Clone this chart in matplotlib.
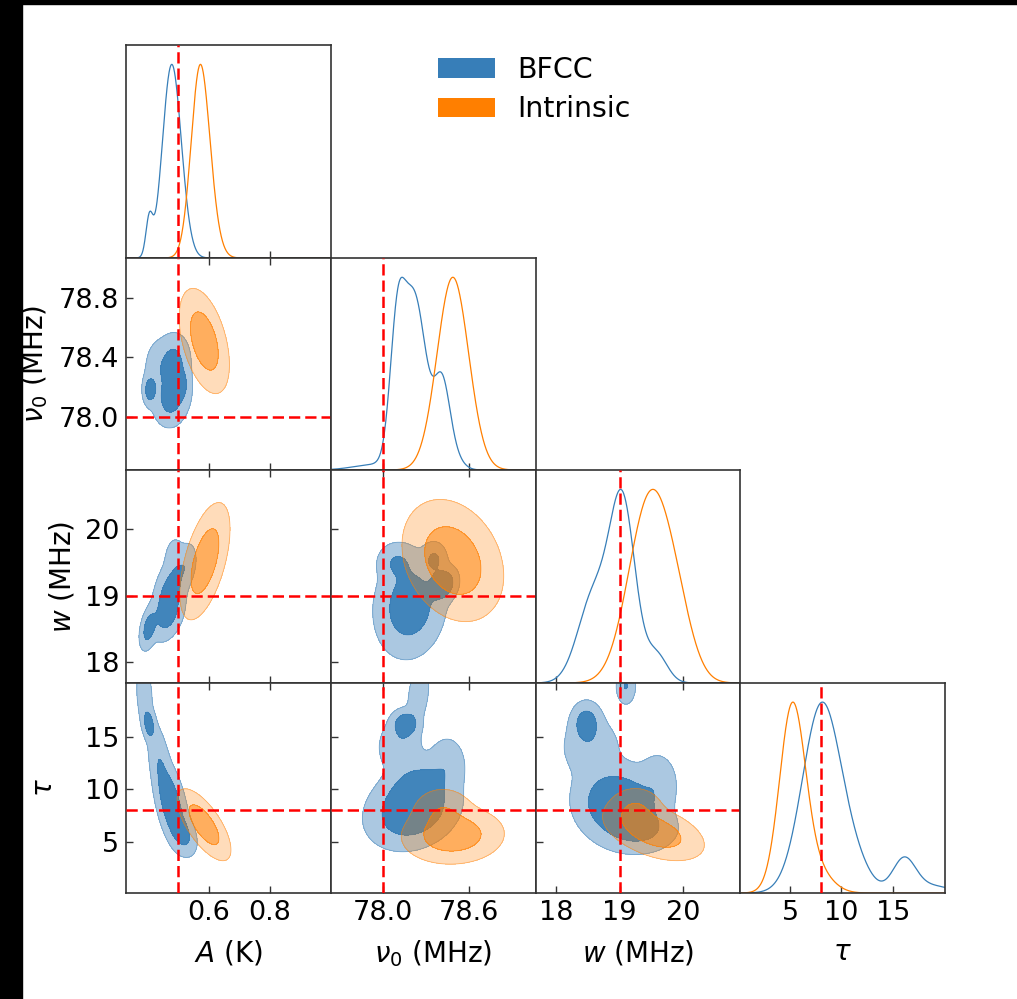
import numpy as np
import matplotlib
matplotlib.use("Agg")
import matplotlib.pyplot as plt
from matplotlib.patches import Patch, Rectangle

# ---------------- data ----------------
PARAM_LABELS = [r"$A$ (K)", r"$\nu_0$ (MHz)", r"$w$ (MHz)", r"$\tau$"]
TRUTH = [0.5, 78.0, 19.0, 8.0]
LIMITS = [(0.33, 1.0), (77.64, 79.07), (17.69, 20.89), (0.1, 20.1)]
XTICKS = [[0.6, 0.8], [78.0, 78.6], [18, 19, 20], [5, 10, 15]]
XTICKLABELS = [["0.6", "0.8"], ["78.0", "78.6"], ["18", "19", "20"], ["5", "10", "15"]]
YTICKS = [None, [78.0, 78.4, 78.8], [18, 19, 20], [5, 10, 15]]
YTICKLABELS = [None, ["78.0", "78.4", "78.8"], ["18", "19", "20"], ["5", "10", "15"]]
SERIES = ["BFCC", "Intrinsic"]

# 1D marginal components: (mean, sigma, amplitude)
BFCC_A_1D = [(0.476, 0.029, 1.0), (0.505, 0.028, 0.2), (0.406, 0.011, 0.21)]
INTR_A_1D = [(0.570, 0.029, 1.0), (0.600, 0.030, 0.2)]
BFCC_NU_1D = [(78.10, 0.05, 0.6), (78.22, 0.085, 0.95), (78.415, 0.055, 0.44), (78.50, 0.06, 0.06),
              (77.95, 0.15, 0.03)]
INTR_NU_1D = [(78.49, 0.11, 1.0)]
BFCC_W_1D = [(19.05, 0.20, 1.0), (18.6, 0.25, 0.5), (19.58, 0.17, 0.16)]
INTR_W_1D = [(19.47, 0.33, 1.0), (19.9, 0.26, 0.25)]
BFCC_TAU_1D = [(8.1, 1.9, 1.0), (16.1, 1.1, 0.17), (11.5, 1.5, 0.1), (18.5, 2.0, 0.04)]
INTR_TAU_1D = [(5.2, 1.25, 1.0), (7.5, 1.5, 0.12)]

# 2D posterior components: (mean x, mean y, sigma x, sigma y, rho, weight)
BFCC_A_NU = [(0.483, 78.36, 0.026, 0.09, 0.1, 0.30), (0.478, 78.12, 0.027, 0.085, 0.1, 0.30),
             (0.515, 78.22, 0.014, 0.07, 0.0, 0.08), (0.408, 78.18, 0.011, 0.05, 0.0, 0.09),
             (0.430, 78.30, 0.022, 0.11, 0.0, 0.09), (0.470, 78.25, 0.040, 0.18, 0.0, 0.12)]
INTR_A_NU = [(0.586, 78.51, 0.0335, 0.145, -0.45, 1.0)]
BFCC_A_W = [(0.474, 19.05, 0.024, 0.22, 0.4, 0.32), (0.466, 18.72, 0.024, 0.17, 0.3, 0.23),
            (0.405, 18.52, 0.014, 0.15, 0.4, 0.14), (0.525, 19.45, 0.018, 0.17, 0.3, 0.08),
            (0.490, 19.55, 0.017, 0.17, 0.0, 0.05), (0.470, 19.00, 0.040, 0.45, 0.5, 0.12)]
INTR_A_W = [(0.588, 19.52, 0.0335, 0.36, 0.55, 1.0)]
BFCC_A_TAU = [(0.478, 8.5, 0.025, 1.9, -0.5, 0.50), (0.515, 5.8, 0.022, 1.0, -0.4, 0.15),
              (0.440, 12.5, 0.020, 2.0, -0.5, 0.15), (0.405, 16.2, 0.011, 0.8, -0.3, 0.08),
              (0.390, 19.0, 0.016, 1.8, -0.2, 0.07)]
INTR_A_TAU = [(0.585, 6.6, 0.036, 1.40, -0.7, 1.0)]
BFCC_NU_W = [(78.19, 18.85, 0.115, 0.36, 0.1, 0.65), (78.42, 19.17, 0.05, 0.13, 0.2, 0.12),
             (78.10, 19.50, 0.07, 0.15, 0.0, 0.08), (78.36, 19.55, 0.045, 0.13, 0.0, 0.05)]
INTR_NU_W = [(78.49, 19.53, 0.145, 0.375, -0.25, 1.0)]
BFCC_NU_TAU = [(78.21, 8.0, 0.15, 1.7, 0.2, 0.55), (78.25, 10.5, 0.12, 1.3, 0.3, 0.15),
               (78.16, 16.2, 0.05, 0.7, 0.0, 0.06), (78.12, 14.0, 0.08, 1.4, 0.0, 0.08),
               (78.25, 19.0, 0.04, 1.5, 0.3, 0.04), (78.45, 12.5, 0.07, 1.4, 0.0, 0.05)]
INTR_NU_TAU = [(78.49, 5.6, 0.15, 1.15, 0.05, 0.8), (78.42, 7.8, 0.10, 1.1, 0.0, 0.2)]
BFCC_W_TAU = [(18.98, 8.5, 0.32, 1.8, -0.1, 0.55), (18.48, 16.3, 0.12, 1.0, 0.0, 0.07),
              (18.55, 14.0, 0.25, 1.6, 0.0, 0.09), (19.10, 19.8, 0.08, 0.9, 0.0, 0.025),
              (19.60, 10.5, 0.17, 1.6, 0.0, 0.06), (19.35, 6.2, 0.28, 1.1, 0.0, 0.12)]
INTR_W_TAU = [(19.55, 5.9, 0.33, 1.15, -0.45, 0.7), (19.25, 8.0, 0.20, 1.0, 0.0, 0.2)]

LEVELS = [0.60, 0.95]

ONE_D = {0: (BFCC_A_1D, INTR_A_1D), 1: (BFCC_NU_1D, INTR_NU_1D),
         2: (BFCC_W_1D, INTR_W_1D), 3: (BFCC_TAU_1D, INTR_TAU_1D)}
TWO_D = {(1, 0): (BFCC_A_NU, INTR_A_NU), (2, 0): (BFCC_A_W, INTR_A_W),
         (3, 0): (BFCC_A_TAU, INTR_A_TAU), (2, 1): (BFCC_NU_W, INTR_NU_W),
         (3, 1): (BFCC_NU_TAU, INTR_NU_TAU), (3, 2): (BFCC_W_TAU, INTR_W_TAU)}

# ---------------- style ----------------
BLUE = (55 / 255, 126 / 255, 184 / 255)
ORANGE = (1.0, 127 / 255, 0.0)
COLORS = [BLUE, ORANGE]
ALPHA_OUT = [0.42, 0.27]
ALPHA_IN = [0.95, 0.63]
SPINE = "#333333"
YLABEL_PAD = [6, 6, 6, 19]

W, H = 1017, 999
COL_L = [126, 331, 536, 740]
COL_R = [331, 536, 740, 945]
ROW_T = [45, 258, 470, 683]
ROW_B = [258, 470, 683, 893]

plt.rcParams["font.family"] = ["DejaVu Sans"]
plt.rcParams["mathtext.fontset"] = "dejavusans"

fig = plt.figure(figsize=(W / 100, H / 100), dpi=100)
fig.patch.set_facecolor("white")
fig.patches.append(Rectangle((0, 0), 22 / W, 1, transform=fig.transFigure, color="black", zorder=-10))
fig.patches.append(Rectangle((0, 1 - 4 / H), 1, 4 / H, transform=fig.transFigure, color="black", zorder=-10))


def pdf1(x, comps):
    y = np.zeros_like(x)
    for m, s, a in comps:
        y += a * np.exp(-0.5 * ((x - m) / s) ** 2)
    return y


def pdf2(X, Y, comps):
    Z = np.zeros_like(X)
    for mx, my, sx, sy, r, wt in comps:
        dx = (X - mx) / sx
        dy = (Y - my) / sy
        q = (dx * dx - 2 * r * dx * dy + dy * dy) / (1 - r * r)
        Z += wt * np.exp(-0.5 * q) / (2 * np.pi * sx * sy * np.sqrt(1 - r * r))
    return Z


def mass_level(Z, frac):
    zs = np.sort(Z.ravel())[::-1]
    cs = np.cumsum(zs)
    cs /= cs[-1]
    return zs[np.searchsorted(cs, frac)]


def style_axes(ax, i, j):
    for sp in ax.spines.values():
        sp.set_color(SPINE)
        sp.set_linewidth(1.2)
    ax.tick_params(direction="in", length=5, width=1.0, color=SPINE, labelsize=19.5, pad=5)
    ax.set_xlim(LIMITS[j])
    ax.set_xticks(XTICKS[j])
    if i == 3:
        ax.set_xticklabels(XTICKLABELS[j])
        ax.set_xlabel(PARAM_LABELS[j], fontsize=20, labelpad=9)
    else:
        ax.set_xticklabels([])
    if i != j:
        ax.set_ylim(LIMITS[i])
        ax.set_yticks(YTICKS[i])
        ax.tick_params(top=True)
        if j == 0:
            ax.set_yticklabels(YTICKLABELS[i])
            ax.set_ylabel(PARAM_LABELS[i], fontsize=20, labelpad=YLABEL_PAD[i])
        else:
            ax.set_yticklabels([])
    else:
        ax.set_yticks([])


DASH = (0, (4.5, 2))
for i in range(4):
    for j in range(i + 1):
        ax = fig.add_axes([COL_L[j] / W, 1 - ROW_B[i] / H,
                           (COL_R[j] - COL_L[j]) / W, (ROW_B[i] - ROW_T[i]) / H])
        style_axes(ax, i, j)
        if i == j:
            lo, hi = LIMITS[j]
            x = np.linspace(lo, hi, 800)
            for k, comps in enumerate(ONE_D[j]):
                y = pdf1(x, comps)
                ax.plot(x, y / y.max(), color=COLORS[k], lw=0.9)
            ax.set_ylim(0, 1.1)
            ax.axvline(TRUTH[j], color="red", lw=1.8, ls=DASH, zorder=5)
        else:
            xlo, xhi = LIMITS[j]
            ylo, yhi = LIMITS[i]
            xs = np.linspace(xlo - 0.6 * (xhi - xlo), xhi + 0.6 * (xhi - xlo), 500)
            ys = np.linspace(ylo - 0.6 * (yhi - ylo), yhi + 0.6 * (yhi - ylo), 500)
            X, Y = np.meshgrid(xs, ys)
            for k, comps in enumerate(TWO_D[(i, j)]):
                Z = pdf2(X, Y, comps)
                l_out = mass_level(Z, LEVELS[1])
                l_in = mass_level(Z, LEVELS[0])
                c = COLORS[k]
                ax.contourf(X, Y, Z, levels=[l_out, l_in, Z.max() * 1.01],
                            colors=[(c[0], c[1], c[2], ALPHA_OUT[k]), (c[0], c[1], c[2], ALPHA_IN[k])],
                            zorder=2 + k)
                ax.contour(X, Y, Z, levels=[l_out, l_in], colors=[c], linewidths=0.6,
                           alpha=0.5, zorder=2 + k)
            ax.set_xlim(LIMITS[j])
            ax.set_ylim(LIMITS[i])
            ax.axvline(TRUTH[j], color="red", lw=1.8, ls=DASH, zorder=5)
            ax.axhline(TRUTH[i], color="red", lw=1.8, ls=DASH, zorder=5)

handles = [Patch(facecolor=COLORS[k], edgecolor="none") for k in range(2)]
fig.legend(handles, SERIES, loc="center left", bbox_to_anchor=(438 / W, 1 - 89.5 / H),
           frameon=False, fontsize=20.5, borderaxespad=0, borderpad=0, labelspacing=0.42,
           handlelength=2.0, handleheight=0.7, handletextpad=0.8)

fig.savefig("out.png", dpi=100)
